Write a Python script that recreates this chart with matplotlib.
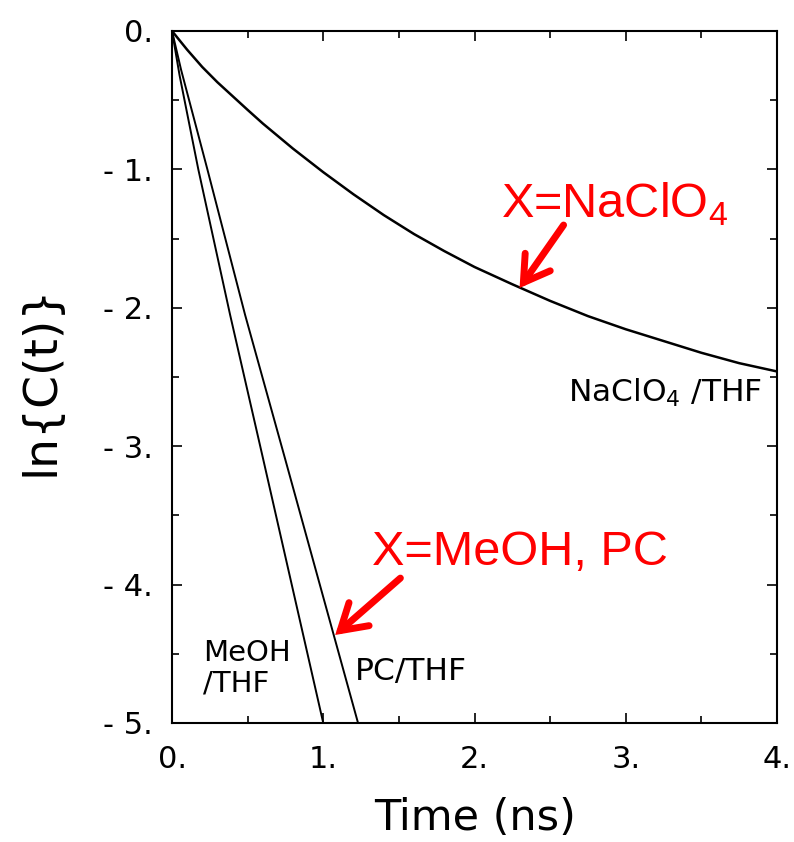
import matplotlib
matplotlib.use("Agg")
import matplotlib.pyplot as plt
from matplotlib.ticker import MultipleLocator

# ln C(t) decay curves for the three X/THF systems
t_naclo4 = [0, 0.1, 0.2, 0.3, 0.4, 0.5, 0.6, 0.8, 1.0, 1.2, 1.4, 1.6, 1.8,
            2.0, 2.25, 2.5, 2.75, 3.0, 3.25, 3.5, 3.75, 4.0]
ln_naclo4 = [0, -0.135, -0.26, -0.37, -0.47, -0.57, -0.668, -0.85, -1.02,
             -1.18, -1.33, -1.467, -1.59, -1.705, -1.83, -1.95, -2.06,
             -2.155, -2.24, -2.325, -2.40, -2.46]

t_meoh = [0, 0.05, 0.174, 0.384, 0.6, 0.8, 1.0]
ln_meoh = [0, -0.32, -1.0, -2.05, -3.08, -4.04, -5.0]

t_pc = [0, 0.06, 0.234, 0.483, 0.75, 1.0, 1.23]
ln_pc = [0, -0.28, -1.0, -2.05, -3.10, -4.09, -5.0]

x_ticks = [0, 1, 2, 3, 4]
x_tick_labels = ["0.", "1.", "2.", "3.", "4."]
y_ticks = [0, -1, -2, -3, -4, -5]
y_tick_labels = ["0.", "- 1.", "- 2.", "- 3.", "- 4.", "- 5."]

plt.rcParams["font.family"] = ["DejaVu Sans"]

W, H = 794, 842
fig = plt.figure(figsize=(W / 100, H / 100), dpi=100)
ax = fig.add_axes([172 / W, 1 - 723 / H, 605 / W, 692 / H])

ax.plot(t_naclo4, ln_naclo4, color="black", lw=1.8, solid_joinstyle="round")
ax.plot(t_meoh, ln_meoh, color="black", lw=1.4)
ax.plot(t_pc, ln_pc, color="black", lw=1.4)

ax.set_xlim(0, 4)
ax.set_ylim(-5, 0)
ax.set_xticks(x_ticks)
ax.set_xticklabels(x_tick_labels)
ax.set_yticks(y_ticks)
ax.set_yticklabels(y_tick_labels)
ax.xaxis.set_minor_locator(MultipleLocator(0.5))
ax.yaxis.set_minor_locator(MultipleLocator(0.5))
ax.tick_params(which="both", direction="in", top=True, right=True,
               width=1.2, labelsize=22)
ax.tick_params(which="major", length=7)
ax.tick_params(which="minor", length=5)
ax.tick_params(axis="x", pad=16)
ax.tick_params(axis="y", pad=14)
for s in ax.spines.values():
    s.set_linewidth(1.5)

fig.text(475 / W, 1 - 830 / H, "Time (ns)", fontsize=31,
         ha="center", va="baseline")
fig.text(41 / W, 1 - 380 / H, "ln{C(t)}", fontsize=34, rotation=90,
         ha="center", va="center")

# curve labels
ax.text(3.90, -2.678, r"NaClO$_\mathregular{4}$ /THF", fontsize=22.5,
        ha="right", va="baseline")
ax.text(0.205, -4.39, "MeOH\n/THF", fontsize=21, ha="left", va="top",
        linespacing=1.15)
ax.text(1.212, -4.689, "PC/THF", fontsize=22.5, ha="left", va="baseline")

# red call-outs
red = "#ff0000"
ax.text(2.172, -1.353, r"X=NaClO$_\mathregular{4}$", fontsize=35,
        family="Liberation Sans", color=red, ha="left", va="baseline")
ax.text(1.325, -3.858, "X=MeOH, PC", fontsize=35,
        family="Liberation Sans", color=red, ha="left", va="baseline")

arrow = dict(arrowstyle="->,head_length=0.9,head_width=0.55", color=red,
             lw=5, mutation_scale=20, shrinkA=0, shrinkB=0,
             capstyle="round", joinstyle="miter")
ax.annotate("", xy=(2.298, -1.857), xytext=(2.589, -1.402),
            arrowprops=arrow)
ax.annotate("", xy=(1.079, -4.364), xytext=(1.51, -3.953),
            arrowprops=arrow)

fig.savefig("out.png", dpi=100)
